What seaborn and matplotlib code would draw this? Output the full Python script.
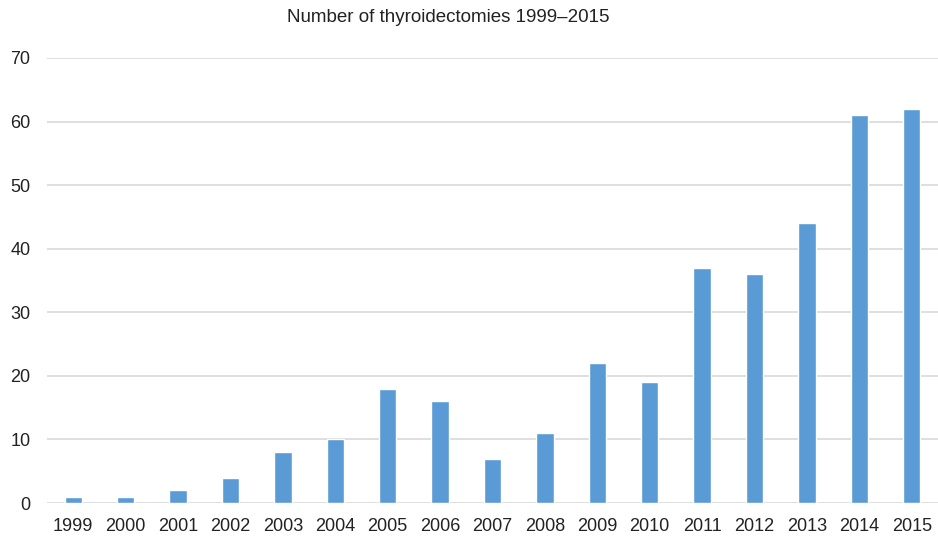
import pandas as pd
import matplotlib
matplotlib.use("Agg")
import matplotlib.pyplot as plt
import seaborn as sns

years = ["1999", "2000", "2001", "2002", "2003", "2004", "2005", "2006", "2007",
         "2008", "2009", "2010", "2011", "2012", "2013", "2014", "2015"]
counts = [1, 1, 2, 4, 8, 10, 18, 16, 7, 11, 22, 19, 37, 36, 44, 61, 62]
yticks = [0, 10, 20, 30, 40, 50, 60, 70]

df = pd.DataFrame({"Year": years, "Count": counts})

sns.set_theme(style="white")
plt.rcParams["font.family"] = ["Liberation Sans", "DejaVu Sans"]

fig = plt.figure(figsize=(9.38, 5.36), dpi=100)
ax = fig.add_axes([47 / 938, 33 / 536, 1 - 47 / 938, 445 / 536])

sns.barplot(data=df, x="Year", y="Count", color="#5B9BD5", width=0.33,
            saturation=1, ax=ax, zorder=3)

ax.set_ylim(0, 70)
ax.set_xlim(-0.5, 16.5)
ax.set_yticks(yticks)
ax.yaxis.grid(True, color="#DCDCDC", linewidth=1.3, zorder=0)
ax.set_axisbelow(True)
for s in ax.spines.values():
    s.set_visible(False)
ax.tick_params(axis="both", length=0, labelsize=13, colors="#222222")
ax.tick_params(axis="y", pad=12)
ax.tick_params(axis="x", pad=11)
ax.set_xlabel("")
ax.set_ylabel("")

fig.text(448 / 938, 1 - 18 / 536, "Number of thyroidectomies 1999\u20132015",
         ha="center", va="center", fontsize=13.5, color="#222222")

fig.savefig("out.png", dpi=100)
